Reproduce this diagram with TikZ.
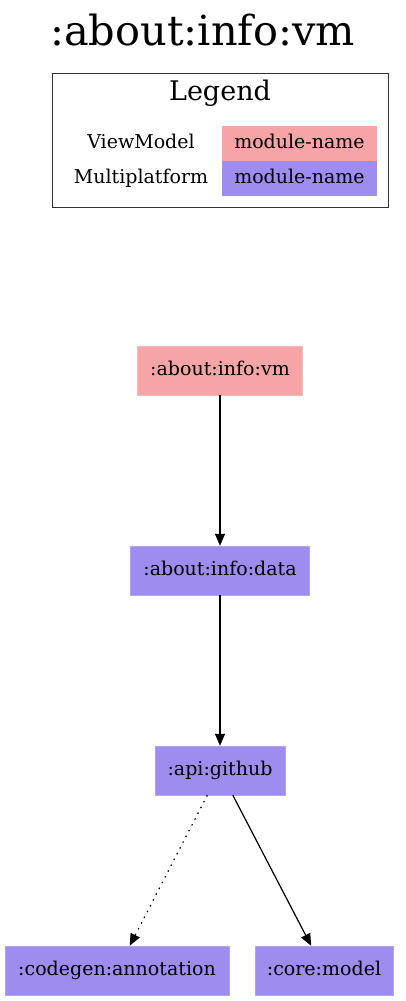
\documentclass[tikz,border=0pt]{standalone}
\usepackage{fontspec}
\setmainfont{DejaVu Serif}
\usetikzlibrary{arrows.meta, positioning}

\definecolor{vmpink}{HTML}{F5A5A6}
\definecolor{mppurple}{HTML}{9E8CEF}

\begin{document}
\begin{tikzpicture}[x=1pt, y=-1pt]

        % Setup the styles for the modules
        \tikzset{module/.style={rectangle,
                                inner sep=0pt,
                                minimum height=49pt,
                                text height=14pt,
                                text depth=4pt,
                                font=\fontsize{19}{22}\selectfont},
                 vm/.style={module, fill=vmpink, draw=vmpink!80!white},
                 mp/.style={module, fill=mppurple, draw=mppurple!80!white},
                 cell/.style={rectangle,
                              inner sep=0pt,
                              minimum width=155pt,
                              minimum height=35pt,
                              text height=14pt,
                              text depth=4pt,
                              font=\fontsize{19}{22}\selectfont},
                 dep/.style={line width=1.2pt,
                             -{Triangle[length=12pt, width=10pt]}}}

        \useasboundingbox (0, 0) rectangle (405, 1001);

        % Title and legend
        \node[font=\fontsize{41.5}{44}\selectfont, anchor=base] (title) at (202.5, 45) {:about:info:vm};
        \draw[line width=1pt, draw=black!80] (52, 73) rectangle (388, 207);
        \node[font=\fontsize{27}{30}\selectfont] (legend) at (220, 93) {Legend};
        \node[cell, minimum width=0pt] (lvm) at (141, 143.5) {ViewModel};
        \node[cell, minimum width=0pt] (lmp) at (141, 178.5) {Multiplatform};
        \node[cell, fill=vmpink] (cvm) at (299.5, 143.5) {module-name};
        \node[cell, fill=mppurple] (cmp) at (299.5, 178.5) {module-name};

        % Draw the modules
        \node[vm, minimum width=165pt] (aboutvm)   at (220, 370.5) {:about:info:vm};
        \node[mp, minimum width=179pt] (aboutdata) at (220, 570.5) {:about:info:data};
        \node[mp, minimum width=130pt] (github)    at (220, 770.5) {:api:github};
        \node[mp, minimum width=224pt] (codegen)   at (117, 970.5) {:codegen:annotation};
        \node[mp, minimum width=138pt] (coremodel) at (324, 970.5) {:core:model};

        % Connect the modules
        \draw[dep] (aboutvm) -- (aboutdata);
        \draw[dep] (aboutdata) -- (github);
        \draw[dep, dash pattern=on 1.5pt off 5pt] (github) -- (codegen);
        \draw[dep] (github) -- (coremodel);
    \end{tikzpicture}
\end{document}
